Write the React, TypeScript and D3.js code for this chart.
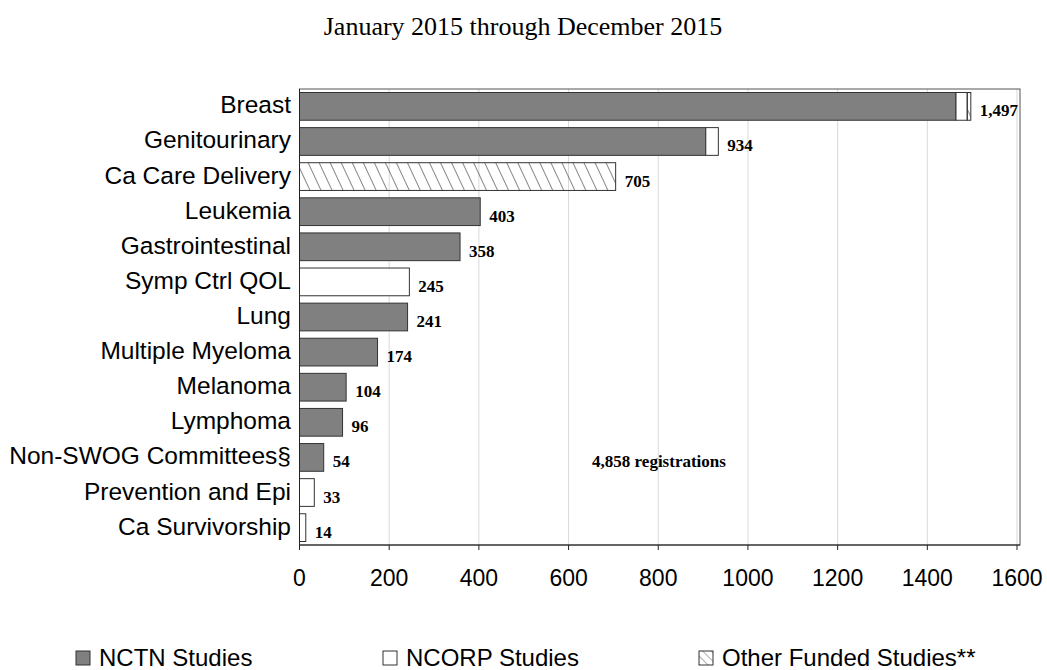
import { useMemo } from 'react';
import * as d3 from 'd3';

const categories = [
    'Breast', 'Genitourinary', 'Ca Care Delivery', 'Leukemia', 'Gastrointestinal',
    'Symp Ctrl QOL', 'Lung', 'Multiple Myeloma', 'Melanoma', 'Lymphoma',
    'Non-SWOG Committees§', 'Prevention and Epi', 'Ca Survivorship',
];
const nctnValues = [1464, 906, 0, 403, 358, 0, 241, 174, 104, 96, 54, 0, 0];
const ncorpValues = [25, 28, 0, 0, 0, 245, 0, 0, 0, 0, 0, 33, 14];
const otherValues = [8, 0, 705, 0, 0, 0, 0, 0, 0, 0, 0, 0, 0];
const totalLabels = ['1,497', '934', '705', '403', '358', '245', '241', '174', '104', '96', '54', '33', '14'];
const xTicks = [0, 200, 400, 600, 800, 1000, 1200, 1400, 1600];
const seriesNames = ['NCTN Studies', 'NCORP Studies', 'Other Funded Studies**'];

const width = 1047;
const height = 670;
const marginLeft = 299.5;
const plotRight = 1020;
const marginTop = 89;
const plotBottom = 545;

const sans = 'Arial, "Liberation Sans", sans-serif';
const serif = '"Times New Roman", "Liberation Serif", serif';

export default function App() {
    const x = useMemo(() => d3.scaleLinear().domain([0, 1600]).range([marginLeft, 1017]), []);
    const y = useMemo(() => d3.scaleBand<string>().domain(categories).range([marginTop, plotBottom]).paddingInner(0.21).paddingOuter(0.1), []);

    const rows = categories.map((c, i) => {
        const a = nctnValues[i];
        const b = ncorpValues[i];
        const o = otherValues[i];
        return {
            cat: c,
            segs: [
                { key: 'nctn', x0: 0, x1: a, fill: '#808080' },
                { key: 'ncorp', x0: a, x1: a + b, fill: '#ffffff' },
                { key: 'other', x0: a + b, x1: a + b + o, fill: 'url(#hatch)' },
            ].filter((s) => s.x1 > s.x0),
            total: a + b + o,
            label: totalLabels[i],
        };
    });

    const legendFills = ['#808080', '#ffffff', 'url(#hatchSmall)'];
    const legendX = [76, 383, 699];

    return (
        <svg width={width} height={height} style={{ display: 'block', position: 'absolute', left: 0, top: 0, background: '#fff' }}>
            <defs>
                <pattern id="hatch" width={10} height={10} patternUnits="userSpaceOnUse" patternTransform="rotate(-25)">
                    <line x1={0} y1={0} x2={0} y2={10} stroke="#222" strokeWidth={1.1} />
                </pattern>
                <pattern id="hatchSmall" width={6} height={6} patternUnits="userSpaceOnUse" patternTransform="rotate(-45)">
                    <line x1={0} y1={0} x2={0} y2={6} stroke="#333" strokeWidth={0.8} />
                </pattern>
            </defs>
            <rect width={width} height={height} fill="#fff" />

            <text x={523} y={35} textAnchor="middle" fontFamily={serif} fontSize={26}>
                January 2015 through December 2015
            </text>

            {/* grid */}
            {xTicks.slice(1).map((t) => (
                <line key={t} x1={x(t)} x2={x(t)} y1={marginTop} y2={plotBottom} stroke="#d9d9d9" strokeWidth={1} />
            ))}
            <rect x={marginLeft} y={marginTop} width={plotRight - marginLeft} height={plotBottom - marginTop} fill="none" stroke="#555" strokeWidth={1} />

            {/* bars */}
            {rows.map((r) => (
                <g key={r.cat}>
                    {r.segs.map((s) => (
                        <rect key={s.key} x={x(s.x0)} y={y(r.cat)} width={x(s.x1) - x(s.x0)} height={y.bandwidth()} fill={s.fill} stroke="#333" strokeWidth={1} />
                    ))}
                    <text x={x(r.total) + 9} y={(y(r.cat) ?? 0) + y.bandwidth() / 2 + 10} fontFamily={serif} fontWeight="bold" fontSize={17}>
                        {r.label}
                    </text>
                    <text x={291} y={(y(r.cat) ?? 0) + y.bandwidth() / 2 + 7} textAnchor="end" fontFamily={sans} fontSize={24.5}>
                        {r.cat}
                    </text>
                </g>
            ))}

            {/* axis */}
            <line x1={marginLeft} x2={marginLeft} y1={marginTop} y2={plotBottom} stroke="#222" />
            <line x1={marginLeft} x2={plotRight} y1={plotBottom} y2={plotBottom} stroke="#222" />
            {xTicks.map((t) => (
                <g key={t}>
                    <line x1={x(t)} x2={x(t)} y1={plotBottom} y2={plotBottom + 5} stroke="#222" />
                    <text x={x(t)} y={586} textAnchor="middle" fontFamily={sans} fontSize={23}>{t}</text>
                </g>
            ))}

            <text x={659} y={467} textAnchor="middle" fontFamily={serif} fontWeight="bold" fontSize={17}>
                4,858 registrations
            </text>

            {/* legend */}
            {seriesNames.map((n, i) => (
                <g key={n}>
                    <rect x={legendX[i]} y={651} width={14} height={14} fill={legendFills[i]} stroke="#333" />
                    <text x={legendX[i] + 23} y={666} fontFamily={sans} fontSize={24}>{n}</text>
                </g>
            ))}
        </svg>
    );
}
